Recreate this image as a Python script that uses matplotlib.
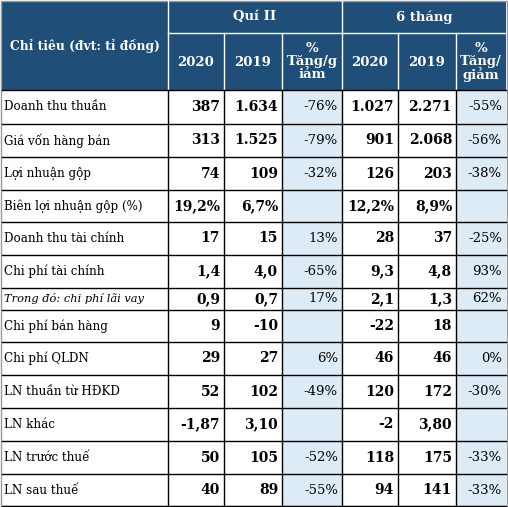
import matplotlib
matplotlib.use("Agg")
import matplotlib.pyplot as plt
from matplotlib.patches import Rectangle

labels = ["Doanh thu thuần", "Giá vốn hàng bán", "Lợi nhuận gộp", "Biên lợi nhuận gộp (%)",
          "Doanh thu tài chính", "Chi phí tài chính", "Trong đó: chi phí lãi vay", "Chi phí bán hàng",
          "Chi phí QLDN", "LN thuần từ HĐKD", "LN khác", "LN trước thuế", "LN sau thuế"]
q2_2020 = ["387", "313", "74", "19,2%", "17", "1,4", "0,9", "9", "29", "52", "-1,87", "50", "40"]
q2_2019 = ["1.634", "1.525", "109", "6,7%", "15", "4,0", "0,7", "-10", "27", "102", "3,10", "105", "89"]
q2_pct = ["-76%", "-79%", "-32%", "", "13%", "-65%", "17%", "", "6%", "-49%", "", "-52%", "-55%"]
h6_2020 = ["1.027", "901", "126", "12,2%", "28", "9,3", "2,1", "-22", "46", "120", "-2", "118", "94"]
h6_2019 = ["2.271", "2.068", "203", "8,9%", "37", "4,8", "1,3", "18", "46", "172", "3,80", "175", "141"]
h6_pct = ["-55%", "-56%", "-38%", "", "-25%", "93%", "62%", "", "0%", "-30%", "", "-33%", "-33%"]

W, H = 508, 507
fig = plt.figure(figsize=(W/100, H/100), dpi=100)
ax = fig.add_axes([0, 0, 1, 1])
ax.set_xlim(0, W); ax.set_ylim(H, 0); ax.axis("off")

font = "DejaVu Serif"
hdr = "#1F4E79"
blue = "#DDEBF7"
xs = [2, 168, 224, 282, 342, 398, 456, 506]
rows = [90, 124, 157, 190, 222, 255, 288, 310, 342, 375, 408, 441, 474, 506]

ax.add_patch(Rectangle((0, 0), W, H, fc="white", ec="none"))
ax.add_patch(Rectangle((xs[0], 1), xs[-1]-xs[0], rows[0]-1, fc=hdr, ec="none"))
for c in (3, 6):
    ax.add_patch(Rectangle((xs[c], rows[0]), xs[c+1]-xs[c], rows[-1]-rows[0], fc=blue, ec="none"))

lw = 1.0
for x in xs[1:-1]:
    y0 = 1 if x in (168, 342) else 33
    ax.plot([x, x], [y0, rows[0]], color="white", lw=lw)
ax.plot([xs[1], xs[-1]], [33, 33], color="white", lw=lw)
for y in rows:
    ax.plot([xs[0], xs[-1]], [y, y], color="black", lw=lw)
for x in xs[1:-1]:
    ax.plot([x, x], [rows[0], rows[-1]], color="black", lw=lw)
ax.add_patch(Rectangle((0.5, 0.5), W-1.5, H-1.5, fc="none", ec="#999999", lw=1))

fs = 9.5
tc = "white"
ax.text(85, 46, "Chỉ tiêu (đvt: tỉ đồng)", color=tc, fontsize=8.8, fontweight="bold", family=font, ha="center", va="center")
ax.text(255, 17, "Quí II", color=tc, fontsize=fs, fontweight="bold", family=font, ha="center", va="center")
ax.text(424, 17, "6 tháng", color=tc, fontsize=fs, fontweight="bold", family=font, ha="center", va="center")
for i, t in enumerate(["2020", "2019", None, "2020", "2019", None]):
    cx = (xs[i+1] + xs[i+2]) / 2
    if t:
        ax.text(cx, 63, t, color=tc, fontsize=fs, fontweight="bold", family=font, ha="center", va="center")
ax.text((xs[3]+xs[4])/2, 62, "%\nTăng/g\niảm", color=tc, fontsize=fs, fontweight="bold", family=font,
        ha="center", va="center", linespacing=1.0)
ax.text((xs[6]+xs[7])/2, 62, "%\nTăng/\ngiảm", color=tc, fontsize=fs, fontweight="bold", family=font,
        ha="center", va="center", linespacing=1.0)

cols = [q2_2020, q2_2019, q2_pct, h6_2020, h6_2019, h6_pct]
for r, lab in enumerate(labels):
    cy = (rows[r] + rows[r+1]) / 2
    ax.text(4, cy, lab, fontsize=8.6 if r != 6 else 8.2, family=font, ha="left", va="center",
            style="italic" if r == 6 else "normal")
    for c, col in enumerate(cols):
        pct = c in (2, 5)
        ax.text(xs[c+2] - 4, cy, col[r], fontsize=9.5 if pct else 10, family=font, ha="right", va="center",
                fontweight="normal" if pct else "bold")

fig.savefig("out.png", dpi=100)
